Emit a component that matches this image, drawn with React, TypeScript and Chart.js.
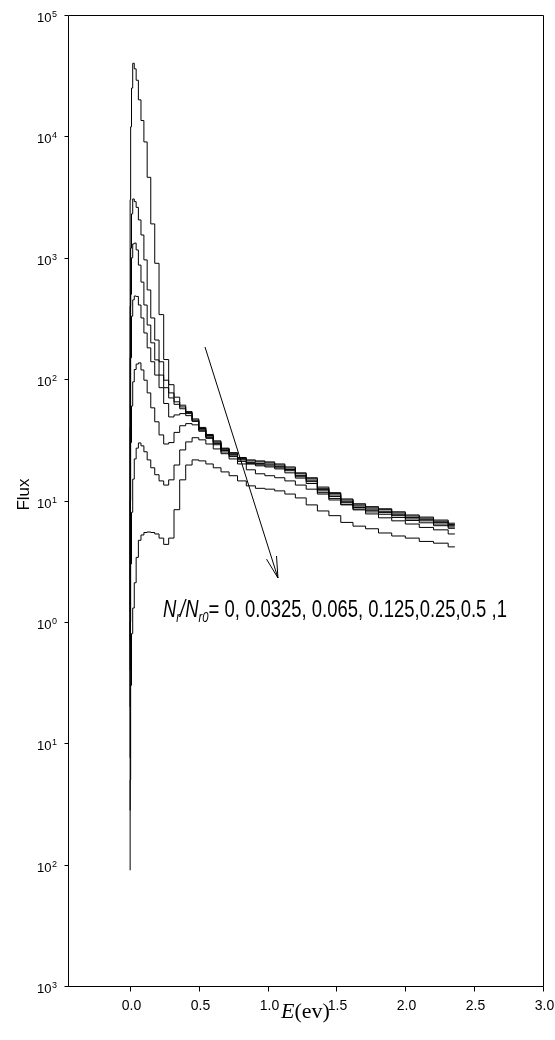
import React, { useEffect, useRef } from "react";
import { Chart, registerables } from "chart.js";

Chart.register(...registerables);

// Energy bin left edges (ev); the last entry closes the final bin
const E_EDGES = [0, 0.00125, 0.005, 0.01125, 0.02, 0.03125, 0.045, 0.06125, 0.08, 0.10125, 0.125, 0.15125, 0.18, 0.21125, 0.245, 0.28125, 0.32, 0.36125, 0.405, 0.45125, 0.5, 0.55125, 0.605, 0.66125, 0.72, 0.78125, 0.845, 0.91125, 0.98, 1.05125, 1.125, 1.20125, 1.28, 1.36125, 1.445, 1.53125, 1.62, 1.71125, 1.805, 1.90125, 2.0, 2.10125, 2.205, 2.31125, 2.36];

const SERIES_LABELS = ["0", "0.0325", "0.065", "0.125", "0.25", "0.5", "1"];

const FLUX_0 = [1.2, 3000, 12000, 25000, 40000, 36000, 29000, 20000, 13500, 9000, 4600, 1900, 900, 340, 145, 90, 71, 61, 54, 47, 40, 35, 31, 27, 24.8, 22.6, 21.6, 21.2, 20.8, 20.0, 18.9, 16.9, 15.4, 12.9, 11.6, 10.3, 9.4, 8.9, 8.55, 8.07, 7.6, 7.3, 6.9, 6.5, 6.5];
const FLUX_1 = [0.7, 400, 1200, 2300, 3050, 2900, 2600, 2050, 1540, 960, 543, 319, 210, 139, 98, 77, 65, 59, 53, 46, 39.2, 34.3, 30.4, 26.5, 24.3, 22.1, 21.2, 20.8, 20.4, 19.6, 18.5, 16.6, 15.1, 12.6, 11.4, 10.1, 9.2, 8.7, 8.4, 7.9, 7.45, 7.15, 6.75, 6.35, 6.35];
const FLUX_2 = [0.4, 150, 500, 1000, 1300, 1320, 1160, 870, 630, 408, 279, 199, 144, 108, 85, 70, 62, 57, 52, 45, 38.2, 33.4, 29.6, 25.8, 23.7, 21.6, 20.6, 20.2, 19.9, 19.1, 18.0, 16.1, 14.7, 12.3, 11.1, 9.85, 9.0, 8.5, 8.15, 7.7, 7.25, 6.95, 6.6, 6.2, 6.2];
const FLUX_3 = [0.2, 40, 150, 330, 450, 484, 480, 408, 319, 240, 181, 139, 108, 85, 63, 48.8, 50.7, 52, 50, 45, 37.2, 32.5, 28.8, 25.1, 23.0, 21.0, 20.1, 19.7, 19.3, 18.6, 17.6, 15.7, 14.3, 12.0, 10.8, 9.6, 8.75, 8.3, 7.95, 7.5, 7.05, 6.8, 6.4, 6.05, 6.05];
const FLUX_4 = [0.076, 10, 30, 60, 95, 120, 133, 136, 119, 98, 77, 58, 44.5, 34.7, 29.2, 30, 36.4, 41.3, 43, 42, 38, 33.2, 29.7, 26.6, 23.8, 22, 20, 19.3, 18.9, 18.2, 16.9, 15.3, 13.8, 11.6, 10.4, 9.3, 8.5, 8.05, 7.7, 7.25, 6.85, 6.55, 6.2, 5.9, 5.9];
const FLUX_5 = [0.028, 1, 3, 8, 15, 22, 27, 29.8, 28.2, 25.2, 21.6, 18.6, 16.3, 14.5, 13.4, 14.8, 19.6, 26.1, 30.4, 32.9, 31.6, 29.2, 26.6, 24.3, 22, 20, 17.9, 16.6, 16.0, 15.4, 14.5, 13.4, 12.4, 11.3, 10.1, 9.2, 8.37, 7.75, 7.2, 6.8, 6.4, 6.0, 5.73, 5.3, 5.3];
const FLUX_6 = [0.009, 0.05, 0.3, 0.8, 1.3, 2.1, 3.4, 4.7, 5.2, 5.45, 5.5, 5.45, 5.3, 4.9, 4.35, 4.9, 8.4, 14.8, 19.6, 21.6, 21.2, 20, 18.6, 17.2, 16.0, 14.5, 13.2, 12.6, 12.4, 12.0, 11.3, 10.5, 9.2, 8.2, 7.5, 6.6, 6.15, 5.85, 5.4, 5.1, 4.9, 4.6, 4.45, 4.15, 4.15];

// Axes
const X_MIN = -0.45;
const X_MAX = 3.0;
const X_TICKS = [0, 0.5, 1.0, 1.5, 2.0, 2.5, 3.0];
const X_TICK_LABELS = ["0.0", "0.5", "1.0", "1.5", "2.0", "2.5", "3.0"];
const Y_MIN = 1e-3;
const Y_MAX = 1e5;
const Y_TICKS = [1e5, 1e4, 1e3, 1e2, 1e1, 1e0, 1e-1, 1e-2, 1e-3];
const Y_TICK_EXP = ["5", "4", "3", "2", "1", "0", "1", "2", "3"];
const X_TITLE_ITALIC = "E";
const X_TITLE_REST = "(ev)";
const Y_TITLE = "Flux";

// Annotation (arrow in data coordinates)
const ARROW_FROM = { x: 0.545, y: 184 };
const ARROW_TO = { x: 1.075, y: 2.3 };
const NOTE_POS = { x: 0.24, y: 1.1, xEnd: 2.738 };
const NOTE_VALUES = "= 0, 0.0325, 0.065, 0.125,0.25,0.5 ,1";

const SANS = '"Liberation Sans", Arial, sans-serif';
const SERIF = '"Liberation Serif", "Times New Roman", serif';

const framePlugin = {
  id: "frame",
  afterDraw(chart: any) {
    const { ctx, chartArea: a, scales } = chart;
    const xs = scales.x;
    const ys = scales.y;
    ctx.save();
    ctx.strokeStyle = "#000";
    ctx.fillStyle = "#000";
    ctx.lineWidth = 1;
    const L = Math.round(a.left) + 0.5;
    const R = Math.round(a.right) + 0.5;
    const T = Math.round(a.top) + 0.5;
    const B = Math.round(a.bottom) + 0.5;
    ctx.beginPath();
    ctx.moveTo(L, T); ctx.lineTo(R, T); ctx.lineTo(R, B); ctx.lineTo(L, B); ctx.closePath();
    ctx.stroke();

    // y ticks + labels
    Y_TICKS.forEach((v, i) => {
      const py = Math.round(ys.getPixelForValue(v)) + 0.5;
      ctx.beginPath();
      ctx.moveTo(L - 4, py); ctx.lineTo(L, py);
      ctx.stroke();
      const exp = Y_TICK_EXP[i];
      ctx.font = `9px ${SANS}`;
      const ew = ctx.measureText(exp).width;
      const right = 57;
      ctx.textAlign = "left";
      ctx.textBaseline = "alphabetic";
      ctx.fillText(exp, right - ew, py + 1.5);
      ctx.font = `13px ${SANS}`;
      ctx.textAlign = "right";
      ctx.fillText("10", right - ew - 0.5, py + 6);
    });

    // x ticks + labels
    X_TICKS.forEach((v, i) => {
      const px = Math.round(xs.getPixelForValue(v)) + 0.5;
      ctx.beginPath();
      ctx.moveTo(px, B); ctx.lineTo(px, B + 5);
      ctx.stroke();
      ctx.font = `14px ${SANS}`;
      ctx.textAlign = "center";
      ctx.textBaseline = "alphabetic";
      ctx.fillText(X_TICK_LABELS[i], px + 1, 1010);
    });

    // x title
    ctx.font = `italic 22px ${SERIF}`;
    const w1 = ctx.measureText(X_TITLE_ITALIC).width;
    ctx.font = `22px ${SERIF}`;
    const w2 = ctx.measureText(X_TITLE_REST).width;
    const cx = (a.left + a.right) / 2;
    let sx = cx - (w1 + w2) / 2;
    ctx.textAlign = "left";
    ctx.font = `italic 22px ${SERIF}`;
    ctx.fillText(X_TITLE_ITALIC, sx, 1018);
    ctx.font = `22px ${SERIF}`;
    ctx.fillText(X_TITLE_REST, sx + w1, 1018);

    // y title
    ctx.save();
    ctx.translate(29, (a.top + a.bottom) / 2 - 6);
    ctx.rotate(-Math.PI / 2);
    ctx.font = `17px ${SANS}`;
    ctx.textAlign = "center";
    ctx.fillText(Y_TITLE, 0, 0);
    ctx.restore();

    // arrow
    const x0 = xs.getPixelForValue(ARROW_FROM.x);
    const y0 = ys.getPixelForValue(ARROW_FROM.y);
    const x1 = xs.getPixelForValue(ARROW_TO.x);
    const y1 = ys.getPixelForValue(ARROW_TO.y);
    ctx.beginPath();
    ctx.moveTo(x0, y0); ctx.lineTo(x1, y1);
    const ang = Math.atan2(y1 - y0, x1 - x0);
    const hl = 22, spread = 0.24;
    ctx.moveTo(x1, y1);
    ctx.lineTo(x1 - hl * Math.cos(ang - spread), y1 - hl * Math.sin(ang - spread));
    ctx.moveTo(x1, y1);
    ctx.lineTo(x1 - hl * Math.cos(ang + spread), y1 - hl * Math.sin(ang + spread));
    ctx.stroke();

    // annotation text N_r/N_r0= ...
    const parts = [
      { t: "N", f: `italic 23px ${SANS}`, dy: 0 },
      { t: "r", f: `italic 14px ${SANS}`, dy: 5 },
      { t: "/", f: `italic 23px ${SANS}`, dy: 0 },
      { t: "N", f: `italic 23px ${SANS}`, dy: 0 },
      { t: "r0", f: `italic 14px ${SANS}`, dy: 5 },
      { t: NOTE_VALUES, f: `23px ${SANS}`, dy: 0 },
    ];
    let total = 0;
    const widths = parts.map((p) => {
      ctx.font = p.f;
      const w = ctx.measureText(p.t).width;
      total += w;
      return w;
    });
    const tx0 = xs.getPixelForValue(NOTE_POS.x);
    const tx1 = xs.getPixelForValue(NOTE_POS.xEnd);
    const ty = ys.getPixelForValue(NOTE_POS.y);
    const scaleX = (tx1 - tx0) / total;
    ctx.save();
    ctx.translate(tx0, ty);
    ctx.scale(scaleX, 1);
    ctx.textAlign = "left";
    let cur = 0;
    parts.forEach((p, i) => {
      ctx.font = p.f;
      ctx.fillText(p.t, cur, p.dy);
      cur += widths[i];
    });
    ctx.restore();

    ctx.restore();
  },
};

export default function App() {
  const ref = useRef<HTMLCanvasElement | null>(null);
  useEffect(() => {
    const series = [FLUX_0, FLUX_1, FLUX_2, FLUX_3, FLUX_4, FLUX_5, FLUX_6];
    const chart = new Chart(ref.current as HTMLCanvasElement, {
      type: "line",
      data: {
        datasets: series.map((s, i) => ({
          label: SERIES_LABELS[i],
          data: E_EDGES.map((e, j) => ({ x: e, y: s[j] })),
          borderColor: "#000",
          borderWidth: 1,
          pointRadius: 0,
          stepped: "before" as const,
          fill: false,
          tension: 0,
        })),
      },
      options: {
        responsive: false,
        animation: false,
        devicePixelRatio: 1,
        layout: { padding: { left: 68, right: 12, top: 15, bottom: 54 } },
        plugins: {
          legend: { display: false },
          tooltip: { enabled: false },
          title: { display: false },
        },
        scales: {
          x: { type: "linear", min: X_MIN, max: X_MAX, display: false },
          y: { type: "logarithmic", min: Y_MIN, max: Y_MAX, display: false },
        },
      },
      plugins: [framePlugin],
    } as any);
    return () => chart.destroy();
  }, []);
  return (
    <div style={{ position: "fixed", left: 0, top: 0, width: 555, height: 1040, background: "#fff" }}>
      <canvas ref={ref} width={555} height={1040} style={{ display: "block", width: 555, height: 1040 }} />
    </div>
  );
}
